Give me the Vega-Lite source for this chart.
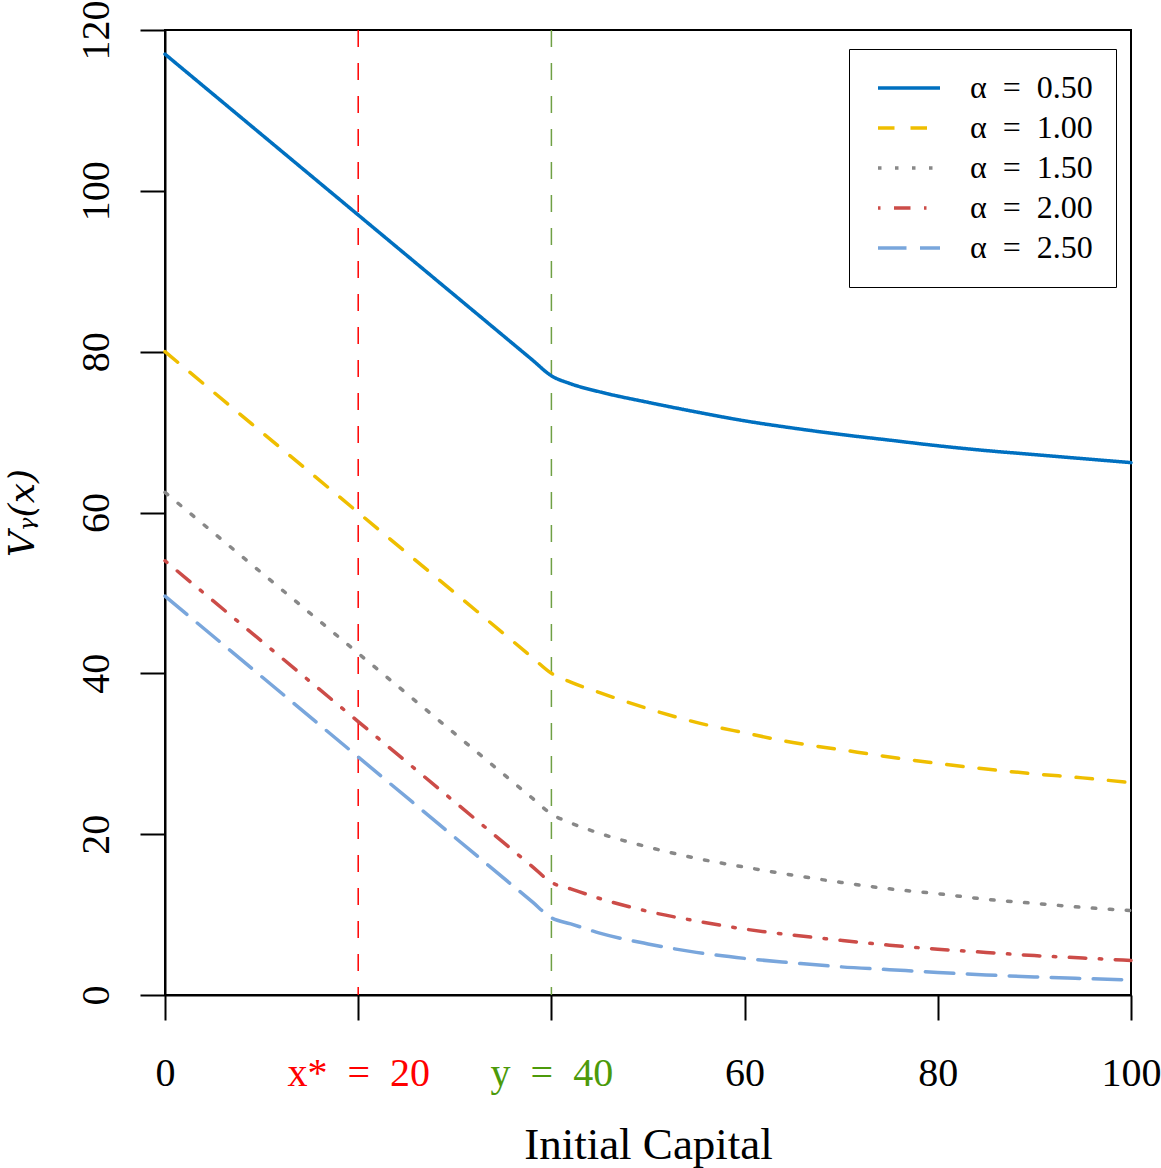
{
  "$schema": "https://vega.github.io/schema/vega-lite/v6.json",
  "width": 966,
  "height": 965,
  "autosize": {"type": "none"},
  "padding": {"left": 165, "top": 30, "right": 30, "bottom": 173},
  "background": "white",
  "config": {
    "view": {"stroke": "black", "strokeWidth": 2},
    "font": "Liberation Serif",
    "axis": {
      "grid": false,
      "domainColor": "black",
      "domainWidth": 2,
      "tickColor": "black",
      "tickWidth": 2,
      "tickSize": 25,
      "labelFont": "Liberation Serif",
      "labelFontSize": 40,
      "labelColor": "black",
      "titleFont": "Liberation Serif",
      "titleFontSize": 40,
      "titleFontWeight": "normal",
      "titleColor": "black"
    }
  },
  "datasets": {
    "curves": [
      {"x": 0, "V": 117, "series": "α = 0.50"},
      {"x": 20, "V": 97, "series": "α = 0.50"},
      {"x": 38, "V": 79, "series": "α = 0.50"},
      {"x": 40, "V": 77, "series": "α = 0.50"},
      {"x": 42, "V": 76.0, "series": "α = 0.50"},
      {"x": 45, "V": 75.0, "series": "α = 0.50"},
      {"x": 50, "V": 73.7, "series": "α = 0.50"},
      {"x": 55, "V": 72.5, "series": "α = 0.50"},
      {"x": 60, "V": 71.4, "series": "α = 0.50"},
      {"x": 65, "V": 70.5, "series": "α = 0.50"},
      {"x": 70, "V": 69.7, "series": "α = 0.50"},
      {"x": 75, "V": 69.0, "series": "α = 0.50"},
      {"x": 80, "V": 68.3, "series": "α = 0.50"},
      {"x": 85, "V": 67.7, "series": "α = 0.50"},
      {"x": 90, "V": 67.2, "series": "α = 0.50"},
      {"x": 95, "V": 66.7, "series": "α = 0.50"},
      {"x": 100, "V": 66.2, "series": "α = 0.50"},

      {"x": 0, "V": 80, "series": "α = 1.00"},
      {"x": 20, "V": 60, "series": "α = 1.00"},
      {"x": 38, "V": 42, "series": "α = 1.00"},
      {"x": 40, "V": 40, "series": "α = 1.00"},
      {"x": 42, "V": 38.9, "series": "α = 1.00"},
      {"x": 45, "V": 37.6, "series": "α = 1.00"},
      {"x": 50, "V": 35.6, "series": "α = 1.00"},
      {"x": 55, "V": 33.9, "series": "α = 1.00"},
      {"x": 60, "V": 32.6, "series": "α = 1.00"},
      {"x": 65, "V": 31.4, "series": "α = 1.00"},
      {"x": 70, "V": 30.5, "series": "α = 1.00"},
      {"x": 75, "V": 29.6, "series": "α = 1.00"},
      {"x": 80, "V": 28.8, "series": "α = 1.00"},
      {"x": 85, "V": 28.1, "series": "α = 1.00"},
      {"x": 90, "V": 27.5, "series": "α = 1.00"},
      {"x": 95, "V": 27.0, "series": "α = 1.00"},
      {"x": 100, "V": 26.4, "series": "α = 1.00"},

      {"x": 0, "V": 62.5, "series": "α = 1.50"},
      {"x": 20, "V": 42.5, "series": "α = 1.50"},
      {"x": 38, "V": 24.5, "series": "α = 1.50"},
      {"x": 40, "V": 22.5, "series": "α = 1.50"},
      {"x": 42, "V": 21.4, "series": "α = 1.50"},
      {"x": 45, "V": 20.1, "series": "α = 1.50"},
      {"x": 50, "V": 18.4, "series": "α = 1.50"},
      {"x": 55, "V": 17.0, "series": "α = 1.50"},
      {"x": 60, "V": 15.9, "series": "α = 1.50"},
      {"x": 65, "V": 14.9, "series": "α = 1.50"},
      {"x": 70, "V": 14.0, "series": "α = 1.50"},
      {"x": 75, "V": 13.2, "series": "α = 1.50"},
      {"x": 80, "V": 12.6, "series": "α = 1.50"},
      {"x": 85, "V": 11.9, "series": "α = 1.50"},
      {"x": 90, "V": 11.4, "series": "α = 1.50"},
      {"x": 95, "V": 10.9, "series": "α = 1.50"},
      {"x": 100, "V": 10.5, "series": "α = 1.50"},

      {"x": 0, "V": 54, "series": "α = 2.00"},
      {"x": 20, "V": 34, "series": "α = 2.00"},
      {"x": 38, "V": 16, "series": "α = 2.00"},
      {"x": 40, "V": 14, "series": "α = 2.00"},
      {"x": 42, "V": 13.2, "series": "α = 2.00"},
      {"x": 45, "V": 12.0, "series": "α = 2.00"},
      {"x": 50, "V": 10.4, "series": "α = 2.00"},
      {"x": 55, "V": 9.2, "series": "α = 2.00"},
      {"x": 60, "V": 8.2, "series": "α = 2.00"},
      {"x": 65, "V": 7.45, "series": "α = 2.00"},
      {"x": 70, "V": 6.8, "series": "α = 2.00"},
      {"x": 75, "V": 6.2, "series": "α = 2.00"},
      {"x": 80, "V": 5.7, "series": "α = 2.00"},
      {"x": 85, "V": 5.3, "series": "α = 2.00"},
      {"x": 90, "V": 4.9, "series": "α = 2.00"},
      {"x": 95, "V": 4.6, "series": "α = 2.00"},
      {"x": 100, "V": 4.3, "series": "α = 2.00"},

      {"x": 0, "V": 49.6, "series": "α = 2.50"},
      {"x": 20, "V": 29.6, "series": "α = 2.50"},
      {"x": 38, "V": 11.6, "series": "α = 2.50"},
      {"x": 40, "V": 9.6, "series": "α = 2.50"},
      {"x": 42, "V": 8.85, "series": "α = 2.50"},
      {"x": 45, "V": 7.7, "series": "α = 2.50"},
      {"x": 50, "V": 6.35, "series": "α = 2.50"},
      {"x": 55, "V": 5.3, "series": "α = 2.50"},
      {"x": 60, "V": 4.55, "series": "α = 2.50"},
      {"x": 65, "V": 4.0, "series": "α = 2.50"},
      {"x": 70, "V": 3.5, "series": "α = 2.50"},
      {"x": 75, "V": 3.15, "series": "α = 2.50"},
      {"x": 80, "V": 2.8, "series": "α = 2.50"},
      {"x": 85, "V": 2.5, "series": "α = 2.50"},
      {"x": 90, "V": 2.25, "series": "α = 2.50"},
      {"x": 95, "V": 2.05, "series": "α = 2.50"},
      {"x": 100, "V": 1.87, "series": "α = 2.50"}
    ],
    "markers": [
      {"x": 20, "name": "x*"},
      {"x": 40, "name": "y"}
    ]
  },
  "layer": [
    {
      "data": {"name": "markers"},
      "mark": {"type": "rule", "strokeWidth": 1.5, "strokeDash": [17, 16]},
      "encoding": {
        "x": {
          "field": "x",
          "type": "quantitative",
          "scale": {"domain": [0, 100], "nice": false, "zero": false},
          "axis": {
            "values": [0, 20, 40, 60, 80, 100],
            "title": "Initial Capital",
            "titleFontSize": 45,
            "labelPadding": 33,
            "labelBaseline": "top",
            "labelExpr": "datum.value == 20 ? 'x*\u2002=\u200220' : datum.value == 40 ? 'y\u2002=\u200240' : datum.label",
            "labelColor": {"expr": "datum.value == 20 ? '#FF0000' : datum.value == 40 ? '#4C9A0A' : 'black'"},
            "labelFlush": false,
            "labelOverlap": false,
            "titleBaseline": "alphabetic",
            "titleY": 163
          }
        },
        "stroke": {
          "field": "name",
          "type": "nominal",
          "scale": {"domain": ["x*", "y"], "range": ["#FF0000", "#6FA044"]},
          "legend": null
        }
      }
    },
    {
      "data": {"name": "curves"},
      "mark": {"type": "line", "strokeWidth": 3.5, "strokeCap": "round", "interpolate": "monotone"},
      "encoding": {
        "x": {"field": "x", "type": "quantitative"},
        "y": {
          "field": "V",
          "type": "quantitative",
          "scale": {"domain": [0, 120], "nice": false},
          "axis": {
            "values": [0, 20, 40, 60, 80, 100, 120],
            "title": "Vᵧ(x)",
            "titleFont": "DejaVu Serif",
            "titleFontStyle": "italic",
            "titleFontSize": 36,
            "titleAngle": -90,
            "titleBaseline": "alphabetic",
            "titleX": -132,
            "titleY": 482.5,
            "labelAngle": -90,
            "labelAlign": "center",
            "labelBaseline": "alphabetic",
            "labelPadding": 32,
            "labelFlush": false,
            "labelOverlap": false
          }
        },
        "color": {
          "field": "series",
          "type": "nominal",
          "scale": {
            "domain": ["α = 0.50", "α = 1.00", "α = 1.50", "α = 2.00", "α = 2.50"],
            "range": ["#0070C0", "#EFBE00", "#888888", "#CC4C48", "#79A6DC"]
          },
          "legend": {
            "orient": "none",
            "legendX": 684,
            "legendY": 19,
            "title": null,
            "strokeColor": "black",
            "fillColor": "white",
            "padding": 23,
            "rowPadding": 8,
            "clipHeight": 32,
            "symbolOffset": 4,
            "symbolType": "stroke",
            "symbolSize": 3844,
            "symbolStrokeWidth": 3.5,
            "labelFont": "Liberation Serif",
            "labelFontSize": 32,
            "labelOffset": 28,
            "labelColor": "black",
            "labelExpr": "replace(datum.label, / = /, '\u2002=\u2002')"
          }
        },
        "strokeDash": {
          "field": "series",
          "type": "nominal",
          "scale": {
            "domain": ["α = 0.50", "α = 1.00", "α = 1.50", "α = 2.00", "α = 2.50"],
            "range": [[1, 0], [16.5, 16], [3.5, 13.5], [2.5, 13.5, 16.5, 13.5], [28.5, 13.5]]
          }
        }
      }
    }
  ]
}
